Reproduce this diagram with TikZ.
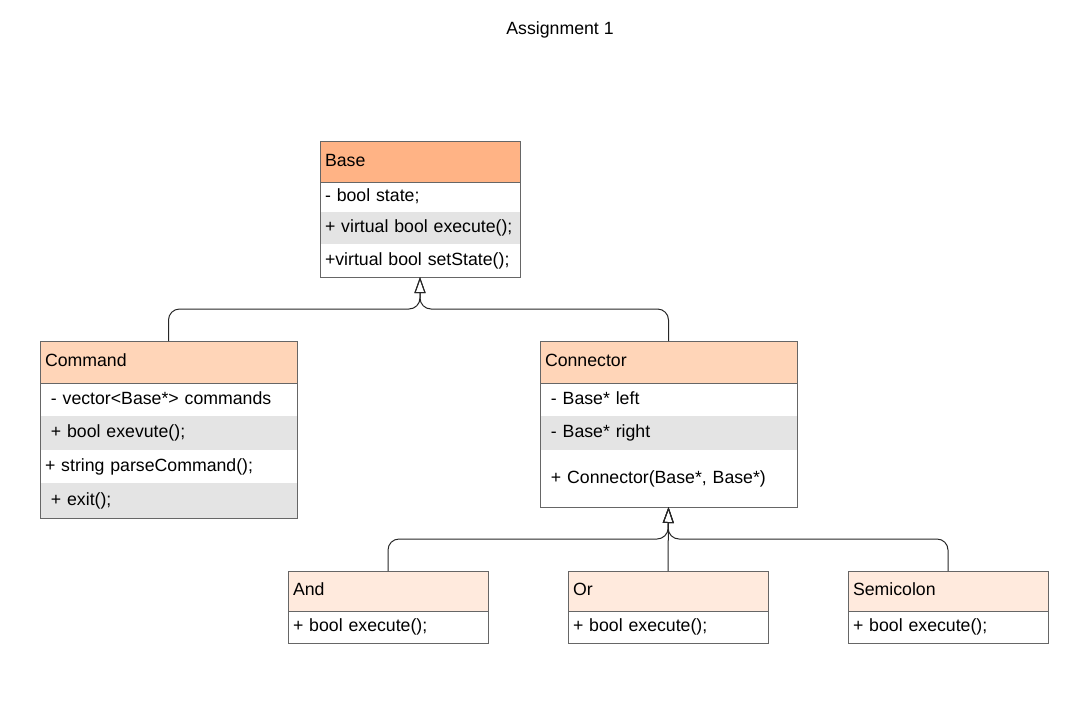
\documentclass[tikz,border=0pt]{standalone}
\usepackage{fontspec}
\setmainfont{Liberation Sans}
\usetikzlibrary{arrows.meta}
\definecolor{headdark}{HTML}{FFB385}
\definecolor{headmid}{HTML}{FFD5B8}
\definecolor{headlight}{HTML}{FFEADD}
\definecolor{rowgray}{HTML}{E4E4E4}
\definecolor{edgegray}{HTML}{666666}
\tikzset{
  cell/.style={anchor=north west, inner xsep=5pt, inner ysep=0pt, outer sep=0pt,
    align=left, text height=12.5pt, text depth=3.5pt, font=\fontsize{17.7}{21}\selectfont},
  head/.style={cell, draw=edgegray, line width=0.8pt},
  frame/.style={draw=edgegray, line width=0.8pt},
  gen/.style={draw=black!85, line width=1pt, rounded corners=11pt, -{Triangle[open,length=16pt,width=11pt]}}
}
\begin{document}
\begin{tikzpicture}[x=1pt,y=-1pt]
  \useasboundingbox (0,0) rectangle (1086,702);
  \node[font=\fontsize{17.7}{21}\selectfont] (title) at (560,30) {Assignment 1};

  \node[cell, text width=190pt, minimum height=30pt] (base1) at (320,182) {- bool state;};
  \node[cell, fill=rowgray, text width=190pt, minimum height=32pt] (base2) at (base1.south west) {+ virtual bool execute();};
  \node[cell, text width=190pt, minimum height=33pt] (base3) at (base2.south west) {+virtual bool setState();};
  \node[head, fill=headdark, text width=190pt, minimum height=41pt, anchor=south west] (base) at (base1.north west) {Base};
  \draw[frame] (base.north west) rectangle (base3.south east);

  \node[cell, text width=247pt, minimum height=33pt] (cmd1) at (40,383) {\ - vector<Base*> commands};
  \node[cell, fill=rowgray, text width=247pt, minimum height=34pt] (cmd2) at (cmd1.south west) {\ + bool exevute();};
  \node[cell, text width=247pt, minimum height=33pt] (cmd3) at (cmd2.south west) {+ string parseCommand();};
  \node[cell, fill=rowgray, text width=247pt, minimum height=35pt] (cmd4) at (cmd3.south west) {\ + exit();};
  \node[head, fill=headmid, text width=247pt, minimum height=42pt, anchor=south west] (cmd) at (cmd1.north west) {Command};
  \draw[frame] (cmd.north west) rectangle (cmd4.south east);

  \node[cell, text width=247pt, minimum height=33pt] (con1) at (540,383) {\ - Base* left};
  \node[cell, fill=rowgray, text width=247pt, minimum height=34pt] (con2) at (con1.south west) {\ - Base* right};
  \node[cell, text width=247pt, minimum height=57pt] (con3) at (con2.south west) {\ + Connector(Base*, Base*)};
  \node[head, fill=headmid, text width=247pt, minimum height=42pt, anchor=south west] (con) at (con1.north west) {Connector};
  \draw[frame] (con.north west) rectangle (con3.south east);

  \node[head, fill=headlight, text width=190pt, minimum height=40pt] (and) at (288,571) {And};
  \node[head, text width=190pt, minimum height=32pt] (and1) at (and.south west) {+ bool execute();};
  \node[head, fill=headlight, text width=190pt, minimum height=40pt] (or) at (568,571) {Or};
  \node[head, text width=190pt, minimum height=32pt] (or1) at (or.south west) {+ bool execute();};
  \node[head, fill=headlight, text width=190pt, minimum height=40pt] (semi) at (848,571) {Semicolon};
  \node[head, text width=190pt, minimum height=32pt] (semi1) at (semi.south west) {+ bool execute();};

  \coordinate (topbus) at (420,309);
  \coordinate (botbus) at (668,539);
  \draw[gen] (cmd.north) |- (topbus) -- (base3.south);
  \draw[gen] (con.north) |- (topbus) -- (base3.south);
  \draw[gen] (and.north) |- (botbus) -- (con3.south);
  \draw[gen] (semi.north) |- (botbus) -- (con3.south);
  \draw[gen] (or.north) -- (con3.south);
\end{tikzpicture}
\end{document}
